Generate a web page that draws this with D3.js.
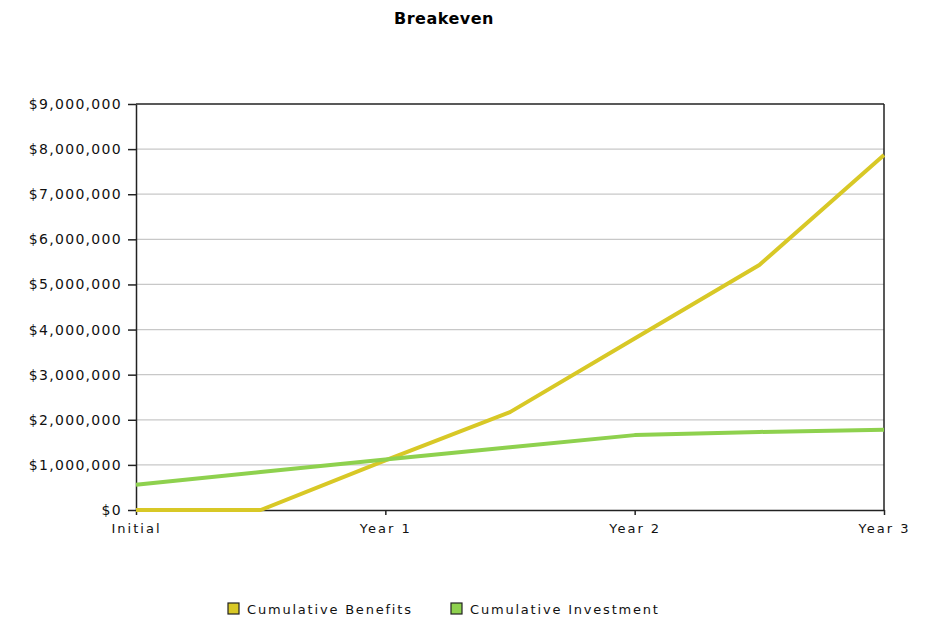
<!DOCTYPE html>
<html><head><meta charset="utf-8">
<script src="https://cdn.jsdelivr.net/npm/d3@7"></script>
<style>body{margin:0;background:#fff;} text{font-family:"DejaVu Sans",sans-serif;}</style>
</head><body><svg id="c" width="926" height="619"></svg>
<script>
const periods = [0, 0.5, 1, 1.5, 2, 2.5, 3];
const tickValues = [0, 1, 2, 3];
const tickLabels = ["Initial", "Year 1", "Year 2", "Year 3"];
const benefits = [0, 0, 1100000, 2170000, 3800000, 5430000, 7870000];
const investment = [560000, 840000, 1120000, 1390000, 1660000, 1730000, 1780000];
const seriesNames = ["Cumulative Benefits", "Cumulative Investment"];
const colors = ["#d8c826", "#8ed14e"];

const svg = d3.select("#c");
const L = 136, R = 884, T = 104, B = 510;
const x = d3.scaleLinear().domain([0, 3]).range([L, R]);
const y = d3.scaleLinear().domain([0, 9000000]).range([B, T]);

svg.append("text").attr("x", 444).attr("y", 24).attr("text-anchor", "middle")
  .attr("font-weight", "bold").attr("font-size", 16).style("letter-spacing", "0.5px").text("Breakeven");

// gridlines
svg.append("g").selectAll("line").data(d3.range(1000000, 9000000, 1000000)).join("line")
  .attr("x1", L).attr("x2", R).attr("y1", d => y(d)).attr("y2", d => y(d))
  .attr("stroke", "#c8c8c8").attr("stroke-width", 1.2);

// frame top/right
svg.append("line").attr("x1", L).attr("x2", R).attr("y1", T).attr("y2", T).attr("stroke", "#222").attr("stroke-width", 1.5);
svg.append("line").attr("x1", R).attr("x2", R).attr("y1", T).attr("y2", B).attr("stroke", "#222").attr("stroke-width", 1.5);

const fmt = d => "$" + d3.format(",")(d);
const ya = svg.append("g").attr("transform", `translate(${L},0)`)
  .call(d3.axisLeft(y).tickValues(d3.range(0, 9000001, 1000000)).tickFormat(fmt).tickSize(8).tickSizeOuter(0).tickPadding(6));
ya.select(".domain").attr("stroke", "#222").attr("stroke-width", 1.5);
ya.selectAll(".tick line").attr("stroke", "#222").attr("stroke-width", 1.5);
ya.selectAll("text").attr("font-size", 14).attr("fill", "#111").style("font-family", "DejaVu Sans").style("letter-spacing", "1.3px");

const xa = svg.append("g").attr("transform", `translate(0,${B})`)
  .call(d3.axisBottom(x).tickValues(tickValues).tickFormat((d, i) => tickLabels[i]).tickSize(5).tickSizeOuter(0).tickPadding(9));
xa.select(".domain").attr("stroke", "#222").attr("stroke-width", 1.5);
xa.selectAll(".tick line").attr("stroke", "#222").attr("stroke-width", 1.5);
xa.selectAll("text").attr("font-size", 13).attr("fill", "#111").style("font-family", "DejaVu Sans").style("letter-spacing", "2px");

const line = d3.line().x((d, i) => x(periods[i])).y(d => y(d));
const g = svg.append("g");
[benefits, investment].forEach((s, k) => {
  g.append("path").datum(s).attr("d", line).attr("fill", "none")
    .attr("stroke", colors[k]).attr("stroke-width", 4).attr("stroke-linejoin", "round");
});

// legend
const legX = [228, 451];
seriesNames.forEach((n, k) => {
  svg.append("rect").attr("x", legX[k]).attr("y", 603).attr("width", 11).attr("height", 11)
    .attr("fill", colors[k]).attr("stroke", "#222").attr("stroke-width", 1.2);
  svg.append("text").attr("x", legX[k] + 19).attr("y", 614).attr("font-size", 13)
    .attr("fill", "#111").style("letter-spacing", "1.8px").text(n);
});
</script></body></html>
